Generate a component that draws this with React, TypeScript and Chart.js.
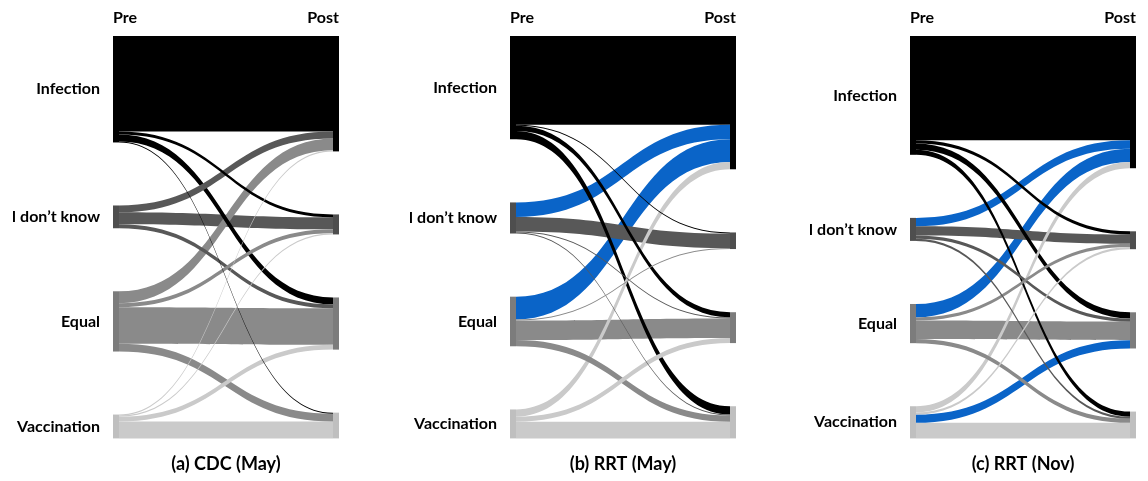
import React, { useEffect, useRef } from 'react';
import { Chart, registerables } from 'chart.js';

Chart.register(...registerables);

// Answer categories, listed top to bottom in both columns
const categories = ['Infection', 'I don’t know', 'Equal', 'Vaccination'];
const stageLabels = ['Pre', 'Post'];
const panelTitles = ['(a) CDC (May)', '(b) RRT (May)', '(c) RRT (Nov)'];

// Share of respondents (%) moving from each pre answer (rows) to each post answer (columns)
const cdcMay = [
  [44.9, 1.4, 3.2, 0.5],
  [3.2, 5.6, 1.9, 0],
  [5.6, 1.9, 17.1, 3.7],
  [0.5, 0.5, 2.3, 7.9],
];
const rrtMay = [
  [41.7, 0.5, 2.4, 3.9],
  [6.8, 6.8, 0.5, 0.5],
  [10.7, 0.5, 9.2, 2.9],
  [3.4, 0, 2.4, 7.8],
];
const rrtNov = [
  [49.0, 1.5, 2.9, 2.4],
  [3.9, 4.4, 1.5, 1.0],
  [6.3, 1.5, 8.7, 1.9],
  [2.9, 1.0, 3.9, 7.3],
];

// Flows drawn in the accent colour, as [pre, post] category indices
const cdcMayAccent: number[][] = [];
const rrtMayAccent = [[1, 0], [2, 0]];
const rrtNovAccent = [[1, 0], [2, 0], [3, 2]];

const panelMatrices = [cdcMay, rrtMay, rrtNov];
const panelAccents = [cdcMayAccent, rrtMayAccent, rrtNovAccent];

// Styling
const FLOW_COLORS = ['#000000', '#585858', '#8a8a8a', '#cacaca'];
const NODE_COLORS = ['#000000', '#4e4e4e', '#7c7c7c', '#bfbfbf'];
const ACCENT = '#0a64c8';
const FONT = 'Lato, "Open Sans", sans-serif';
const SPAN = 189; // value range of each column: 100% of respondents plus the gaps between nodes
const NODE_W = 6;
const AXIS_W = 100;
const CANVAS_W = 335;
const CANVAS_H = 481;
const PANEL_LEFT = [13, 410, 810];

const sum = (a: number[]) => a.reduce((s, v) => s + v, 0);

// Stack node totals down a column with equal gaps between them
function stackColumn(totals: number[]) {
  const gap = (SPAN - sum(totals)) / (totals.length - 1);
  let y = 0;
  return totals.map((t) => {
    const start = y;
    y += t + gap;
    return [start, start + t];
  });
}

function layoutFor(matrix: number[][]) {
  const n = categories.length;
  const preTotals = matrix.map((r) => sum(r));
  const postTotals = categories.map((_, j) => sum(matrix.map((r) => r[j])));
  const pre = stackColumn(preTotals);
  const post = stackColumn(postTotals);
  const flows: { from: number; to: number; v: number; s0: number; s1: number; t0: number; t1: number }[] = [];
  // outgoing flows ordered by target, incoming flows ordered by source
  const incomingOffset: number[][] = [];
  for (let j = 0; j < n; j++) {
    let y = post[j][0];
    incomingOffset[j] = [];
    for (let i = 0; i < n; i++) {
      incomingOffset[j][i] = y;
      y += matrix[i][j];
    }
  }
  for (let i = 0; i < n; i++) {
    let y = pre[i][0];
    for (let j = 0; j < n; j++) {
      const v = matrix[i][j];
      if (v > 0) {
        flows.push({ from: i, to: j, v, s0: y, s1: y + v, t0: incomingOffset[j][i], t1: incomingOffset[j][i] + v });
      }
      y += v;
    }
  }
  return { pre, post, flows };
}

function makeSankeyPlugin(matrix: number[][], accent: number[][]) {
  const { pre, post, flows } = layoutFor(matrix);
  const isAccent = (i: number, j: number) => accent.some(([a, b]) => a === i && b === j);
  return {
    id: 'sankeyFlows',
    afterDatasetsDraw(chart: Chart) {
      const ctx = chart.ctx;
      const xs = chart.scales.x;
      const ys = chart.scales.y;
      const xPre = xs.getPixelForValue(0);
      const xPost = xs.getPixelForValue(1);
      const xa = xPre + NODE_W;
      const xb = xPost - NODE_W;
      const xm = (xa + xb) / 2;
      ctx.save();
      // wide ribbons first so the narrow ones stay visible on top
      const ordered = [...flows].sort((a, b) => b.v - a.v);
      for (const f of ordered) {
        const sy0 = ys.getPixelForValue(f.s0);
        const sy1 = ys.getPixelForValue(f.s1);
        const ty0 = ys.getPixelForValue(f.t0);
        const ty1 = ys.getPixelForValue(f.t1);
        ctx.beginPath();
        ctx.moveTo(xa, sy0);
        ctx.bezierCurveTo(xm, sy0, xm, ty0, xb, ty0);
        ctx.lineTo(xb, ty1);
        ctx.bezierCurveTo(xm, ty1, xm, sy1, xa, sy1);
        ctx.closePath();
        ctx.fillStyle = isAccent(f.from, f.to) ? ACCENT : FLOW_COLORS[f.from];
        ctx.fill();
      }
      // node bars in each column
      pre.forEach(([a, b], i) => {
        const top = ys.getPixelForValue(a);
        ctx.fillStyle = NODE_COLORS[i];
        ctx.fillRect(xPre, top, NODE_W, ys.getPixelForValue(b) - top);
      });
      post.forEach(([a, b], j) => {
        const top = ys.getPixelForValue(a);
        ctx.fillStyle = NODE_COLORS[j];
        ctx.fillRect(xPost - NODE_W, top, NODE_W, ys.getPixelForValue(b) - top);
      });
      ctx.restore();
    },
  };
}

function buildConfig(index: number): any {
  const matrix = panelMatrices[index];
  const { pre } = layoutFor(matrix);
  const labelValues = pre.map(([a, b]) => (a + b) / 2);
  return {
    type: 'scatter',
    data: { datasets: [] },
    plugins: [makeSankeyPlugin(matrix, panelAccents[index])],
    options: {
      animation: false,
      responsive: false,
      devicePixelRatio: 1,
      layout: { padding: { left: 0, right: 4, top: 0, bottom: 0 } },
      plugins: {
        legend: { display: false },
        tooltip: { enabled: false },
        title: {
          display: true,
          text: panelTitles[index],
          position: 'bottom',
          fullSize: false,
          color: '#000',
          font: { family: FONT, size: 18, weight: 'bold' },
          padding: { top: 15, bottom: 6 },
        },
      },
      scales: {
        x: {
          type: 'linear',
          position: 'top',
          min: 0,
          max: 1,
          grid: { display: false, drawTicks: false },
          border: { display: false },
          afterBuildTicks: (scale: any) => {
            scale.ticks = stageLabels.map((_, i) => ({ value: i }));
          },
          afterFit: (scale: any) => {
            scale.height = 36;
          },
          ticks: {
            autoSkip: false,
            maxRotation: 0,
            align: 'inner',
            padding: 9,
            color: '#000',
            font: { family: FONT, size: 16, weight: 'bold' },
            callback: (_v: any, i: number) => stageLabels[i],
          },
        },
        y: {
          type: 'linear',
          position: 'left',
          reverse: true,
          min: 0,
          max: SPAN,
          grid: { display: false, drawTicks: false },
          border: { display: false },
          afterBuildTicks: (scale: any) => {
            scale.ticks = labelValues.map((v) => ({ value: v }));
          },
          afterFit: (scale: any) => {
            scale.width = AXIS_W;
          },
          ticks: {
            autoSkip: false,
            padding: 13,
            color: '#000',
            font: { family: FONT, size: 16, weight: 'bold' },
            callback: (_v: any, i: number) => categories[i],
          },
        },
      },
    },
  };
}

function Panel({ index }: { index: number }) {
  const ref = useRef<HTMLCanvasElement>(null);
  useEffect(() => {
    const chart = new Chart(ref.current as HTMLCanvasElement, buildConfig(index));
    return () => chart.destroy();
  }, [index]);
  return (
    <canvas
      ref={ref}
      width={CANVAS_W}
      height={CANVAS_H}
      style={{ position: 'absolute', left: PANEL_LEFT[index], top: 0, width: CANVAS_W, height: CANVAS_H }}
    />
  );
}

export default function App() {
  return (
    <div style={{ position: 'fixed', left: 0, top: 0, width: 1148, height: 481, background: '#fff', overflow: 'hidden' }}>
      {panelTitles.map((_, i) => (
        <Panel key={i} index={i} />
      ))}
    </div>
  );
}
